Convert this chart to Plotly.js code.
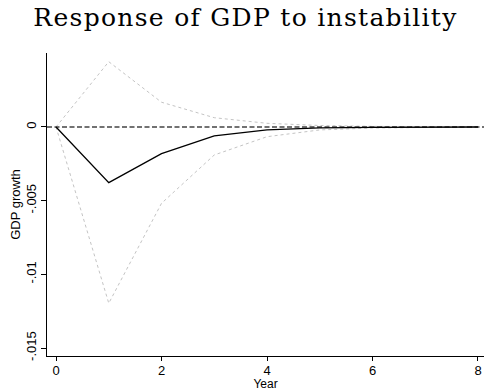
<!DOCTYPE html>
<html><head><meta charset="utf-8">
<script src="https://cdn.plot.ly/plotly-3.0.1.min.js"></script>
<style>html,body{margin:0;padding:0;background:#fff}#c{width:486px;height:391px}
#c .gtitle{letter-spacing:1.3px}</style>
</head><body><div id="c"></div>
<script>
const years = [0,1,2,3,4,5,6,7,8];
const irf   = [0,-0.00378,-0.00181,-0.00061,-0.00020,-0.00006,-0.00002,-0.00001,0];
const upper = [0,0.00443,0.00168,0.00063,0.00025,0.00010,0.00004,0.00001,0];
const lower = [0,-0.01196,-0.00518,-0.00190,-0.00066,-0.00020,-0.00007,-0.00002,0];
const xTicks = [0,2,4,6,8];
const yTicks = [0,-0.005,-0.01,-0.015];
const yTickText = ["0","-.005","-.01","-.015"];
const zeroLine = [0,0];
const zeroX = [-0.171, 8.114];

const traces = [
  {x: years, y: upper, mode:'lines', line:{color:'#c4c4c4', width:1, dash:'dot'}, hoverinfo:'skip'},
  {x: years, y: lower, mode:'lines', line:{color:'#c4c4c4', width:1, dash:'dot'}, hoverinfo:'skip'},
  {x: zeroX, y: zeroLine, mode:'lines', line:{color:'#444444', width:1.4, dash:'5px,2.5px'}, hoverinfo:'skip'},
  {x: years, y: irf, mode:'lines', line:{color:'#000000', width:1.3}, hoverinfo:'skip'}
];
const layout = {
  width:486, height:391,
  margin:{l:47, r:2, t:53, b:35},
  paper_bgcolor:'#fff', plot_bgcolor:'#fff',
  showlegend:false,
  title:{text:'Response of GDP to instability', x:0.505, xanchor:'center', y:0.978, yanchor:'top',
         font:{family:'DejaVu Serif', size:25, color:'#000'}},
  xaxis:{range:[-0.171,8.114], tickvals:xTicks, ticktext:xTicks.map(String),
         showgrid:false, zeroline:false, showline:true, linecolor:'#000', linewidth:1,
         ticks:'outside', ticklen:4, tickcolor:'#000', tickwidth:1, ticklabelstandoff:-2,
         tickfont:{family:'Liberation Sans, Arial', size:13, color:'#000'},
         title:{text:'Year', standoff:1, font:{family:'Liberation Sans, Arial', size:12, color:'#000'}}},
  yaxis:{range:[-0.01554,0.00502], tickvals:yTicks, ticktext:yTickText, tickangle:-90,
         showgrid:false, zeroline:false, showline:true, linecolor:'#000', linewidth:1,
         ticks:'outside', ticklen:5, tickcolor:'#000', tickwidth:1,
         tickfont:{family:'Liberation Sans, Arial', size:13, color:'#000'},
         title:{text:'GDP growth', standoff:0, font:{family:'Liberation Sans, Arial', size:13, color:'#000'}}}
};
Plotly.newPlot('c', traces, layout, {staticPlot:true, displayModeBar:false});
</script></body></html>
